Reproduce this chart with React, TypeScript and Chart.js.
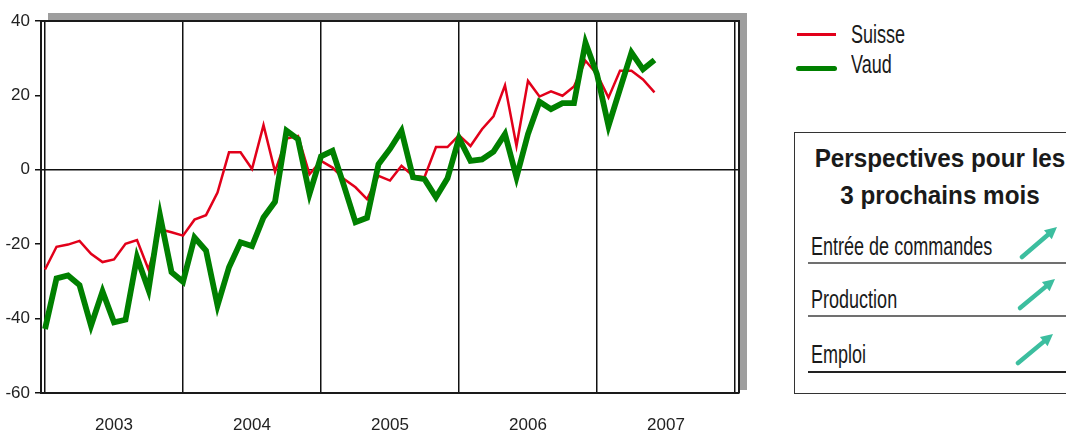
import React, { useEffect, useRef } from 'react';
import { Chart, registerables } from 'chart.js';

Chart.register(...registerables);

// ---- Data (monthly, Jan 2003 .. Jun 2007) ----
const yearLabels = ['2003', '2004', '2005', '2006', '2007'];

const suisse = [
  -26.8, -20.7, -20.1, -19.1, -22.6, -24.8, -24.1, -19.9, -18.9, -26.8, -16.0, -16.8,
  -17.7, -13.4, -12.2, -6.1, 4.7, 4.7, 0.2, 12.0, -0.5, 8.4, 9.1, -1.2,
  2.4, 0.6, -2.5, -4.7, -7.9, -1.6, -2.9, 1.1, -1.6, -2.0, 6.1, 6.1,
  9.3, 6.4, 10.9, 14.4, 22.7, 6.4, 23.9, 19.7, 21.1, 19.9, 22.4, 29.3,
  25.7, 19.4, 26.6, 26.6, 24.3, 20.8,
];

const vaud = [
  -42.8, -29.2, -28.4, -31.0, -41.9, -32.7, -41.0, -40.3, -23.5, -32.3, -12.3, -27.5,
  -30.1, -18.2, -21.7, -36.5, -26.2, -19.5, -20.5, -12.8, -8.6, 10.5, 8.2, -6.5,
  3.6, 5.1, -4.3, -14.1, -12.9, 1.5, 5.6, 10.5, -2.0, -2.5, -7.4, -2.3,
  8.5, 2.4, 2.8, 4.9, 9.6, -2.0, 9.6, 18.3, 16.3, 17.9, 17.9, 34.2,
  25.7, 11.8, 21.7, 31.5, 27.0, 29.5,
];

const seriesLabels = ['Suisse', 'Vaud'];
const perspectivesTitle = ['Perspectives pour les', '3 prochains mois'];
const perspectivesRows = ['Entrée de commandes', 'Production', 'Emploi'];

const FONT = "'Liberation Sans', Arial, sans-serif";
const RED = '#e2001a';
const GREEN = '#008000';
const TEAL = '#3cbe9f';

const framePlugin = {
  id: 'frame',
  beforeDraw(chart: any) {
    const { ctx, chartArea } = chart;
    const { left, top, right, bottom } = chartArea;
    ctx.save();
    ctx.fillStyle = '#9e9e9e';
    ctx.fillRect(left + 7, top - 8, right - left + 1, bottom - top + 5);
    ctx.fillStyle = '#ffffff';
    ctx.fillRect(left, top, right - left, bottom - top);
    ctx.restore();
  },
  afterDraw(chart: any) {
    const { ctx, chartArea } = chart;
    const { left, top, right, bottom } = chartArea;
    ctx.save();
    ctx.strokeStyle = '#1a1a1a';
    ctx.lineWidth = 2;
    ctx.beginPath();
    ctx.moveTo(left, top);
    ctx.lineTo(right, top);
    ctx.lineTo(right, bottom);
    ctx.stroke();
    ctx.restore();
  },
};

function Arrow({ x1, y1, x2, y2 }: { x1: number; y1: number; x2: number; y2: number }) {
  const dx = x2 - x1;
  const dy = y2 - y1;
  const len = Math.sqrt(dx * dx + dy * dy);
  const ux = dx / len;
  const uy = dy / len;
  const hl = 12;
  const hw = 6;
  const bx = x2 - ux * hl;
  const by = y2 - uy * hl;
  const px = -uy;
  const py = ux;
  const pts = `${x2},${y2} ${bx + px * hw},${by + py * hw} ${bx - px * hw},${by - py * hw}`;
  return (
    <g>
      <line x1={x1} y1={y1} x2={bx + ux * 2} y2={by + uy * 2} stroke={TEAL} strokeWidth={4.5} strokeLinecap="round" />
      <polygon points={pts} fill={TEAL} />
    </g>
  );
}

const condensed = (size: number): React.CSSProperties => ({
  fontSize: size,
  lineHeight: `${size}px`,
  whiteSpace: 'nowrap',
  transform: 'scaleX(0.68)',
  transformOrigin: 'left top',
});

export default function App() {
  const canvasRef = useRef<HTMLCanvasElement | null>(null);

  useEffect(() => {
    if (!canvasRef.current) return;
    const xTicks: number[] = [];
    for (let k = 0; k <= yearLabels.length * 12; k += 6) xTicks.push(k);

    const chart = new Chart(canvasRef.current, {
      type: 'line',
      data: {
        datasets: [
          {
            label: seriesLabels[0],
            data: suisse.map((y, i) => ({ x: i, y })),
            borderColor: RED,
            backgroundColor: RED,
            borderWidth: 2.5,
            pointRadius: 0,
            tension: 0,
            borderJoinStyle: 'miter',
            order: 1,
          },
          {
            label: seriesLabels[1],
            data: vaud.map((y, i) => ({ x: i, y })),
            borderColor: GREEN,
            backgroundColor: GREEN,
            borderWidth: 5.8,
            pointRadius: 0,
            tension: 0,
            borderJoinStyle: 'miter',
            order: 0,
          },
        ],
      },
      options: {
        responsive: false,
        animation: false,
        events: [],
        layout: { padding: { top: 21, right: 21, left: 0, bottom: 0 } },
        plugins: { legend: { display: false }, tooltip: { enabled: false } },
        scales: {
          x: {
            type: 'linear',
            min: -0.35,
            max: yearLabels.length * 12 + 0.35,
            afterBuildTicks: (scale: any) => {
              scale.ticks = xTicks.map((v) => ({ value: v }));
            },
            afterFit: (scale: any) => {
              scale.height = 37;
            },
            grid: {
              color: (ctx: any) => (ctx.tick && ctx.tick.value % 12 === 0 ? '#111111' : 'rgba(0,0,0,0)'),
              lineWidth: 1.5,
              drawTicks: false,
            },
            border: { color: '#1a1a1a', width: 2 },
            ticks: {
              autoSkip: false,
              maxRotation: 0,
              padding: 22,
              color: '#222222',
              font: { family: FONT, size: 17 },
              callback: (value: any) => {
                const v = Number(value);
                return v % 12 === 6 ? yearLabels[(v - 6) / 12] : '';
              },
            },
          },
          y: {
            min: -60,
            max: 40,
            afterFit: (scale: any) => {
              scale.width = 41;
            },
            grid: {
              color: (ctx: any) => (ctx.tick && ctx.tick.value === 0 ? '#111111' : 'rgba(0,0,0,0)'),
              tickColor: '#111111',
              tickLength: 6,
              lineWidth: 1.5,
            },
            border: { color: '#1a1a1a', width: 2 },
            ticks: {
              stepSize: 20,
              padding: 5,
              color: '#222222',
              font: { family: FONT, size: 17 },
            },
          },
        },
      } as any,
      plugins: [framePlugin],
    });
    return () => chart.destroy();
  }, []);

  const rowTops = [233, 286, 341];
  const lineTops = [262, 315.3, 371];
  const lineColors = ['#707070', '#707070', '#222222'];
  const arrows = [
    { x1: 1022, y1: 257, x2: 1057, y2: 227 },
    { x1: 1020, y1: 308, x2: 1055, y2: 279 },
    { x1: 1018, y1: 363, x2: 1053, y2: 334 },
  ];

  return (
    <div
      style={{
        position: 'absolute',
        left: 0,
        top: 0,
        width: 1066,
        height: 430,
        overflow: 'hidden',
        background: '#ffffff',
        fontFamily: FONT,
        color: '#1a1a1a',
      }}
    >
      <canvas ref={canvasRef} width={760} height={430} style={{ position: 'absolute', left: 0, top: 0 }} />

      {/* Legend */}
      <div style={{ position: 'absolute', left: 797, top: 33, width: 39, height: 2.5, background: RED }} />
      <div style={{ position: 'absolute', left: 851, top: 20.6, ...condensed(26.5) }}>{seriesLabels[0]}</div>
      <div style={{ position: 'absolute', left: 796, top: 65.5, width: 41, height: 5, borderRadius: 3, background: GREEN }} />
      <div style={{ position: 'absolute', left: 851, top: 50.6, ...condensed(26.5) }}>{seriesLabels[1]}</div>

      {/* Perspectives box */}
      <div
        style={{
          position: 'absolute',
          left: 794,
          top: 132,
          width: 292,
          height: 262,
          border: '1.5px solid #333333',
          boxSizing: 'border-box',
        }}
      />
      <div
        style={{
          position: 'absolute',
          left: 794,
          top: 140,
          width: 292,
          textAlign: 'center',
          fontWeight: 'bold',
          fontSize: 25,
          lineHeight: '37px',
          whiteSpace: 'nowrap',
          transform: 'scaleX(0.97)',
          transformOrigin: 'center top',
        }}
      >
        <div>{perspectivesTitle[0]}</div>
        <div>{perspectivesTitle[1]}</div>
      </div>
      {perspectivesRows.map((r, i) => (
        <div key={r} style={{ position: 'absolute', left: 811, top: rowTops[i], ...condensed(26.5) }}>
          {r}
        </div>
      ))}
      {perspectivesRows.map((r, i) => (
        <div
          key={'l' + r}
          style={{ position: 'absolute', left: 808, top: lineTops[i], width: 260, height: 1.5, background: lineColors[i] }}
        />
      ))}
      <svg width={1066} height={430} style={{ position: 'absolute', left: 0, top: 0, pointerEvents: 'none' }}>
        {arrows.map((a, i) => (
          <Arrow key={i} {...a} />
        ))}
      </svg>
    </div>
  );
}
